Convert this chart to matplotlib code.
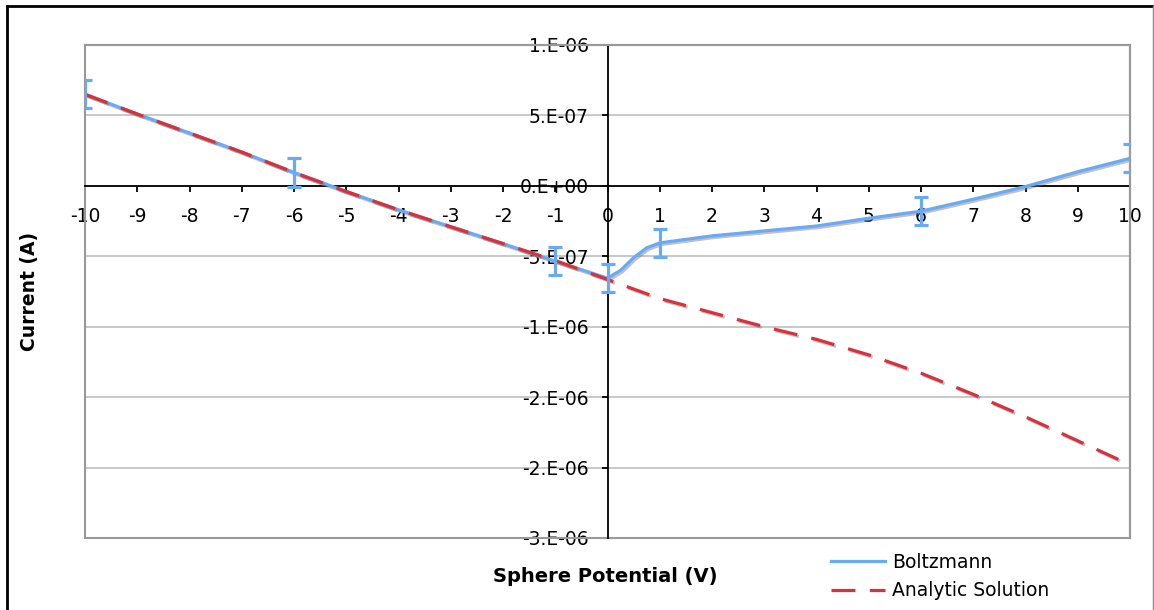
import numpy as np
import matplotlib
matplotlib.use("Agg")
import matplotlib.pyplot as plt
import matplotlib.patheffects as pe
from matplotlib.lines import Line2D
from matplotlib.patches import Rectangle

# sphere potential (V) and current (A)
x_analytic = [-10, -9, -8, -7, -6, -5, -4, -3, -2, -1, 0,
              1, 2, 3, 4, 5, 6, 7, 8, 9, 10]
i_analytic = [0.65, 0.51, 0.375, 0.24, 0.095, -0.04, -0.17, -0.29, -0.41, -0.53, -0.665,
              -0.80, -0.90, -1.00, -1.09, -1.20, -1.33, -1.48, -1.64, -1.81, -1.98]

x_boltz = [-10, -9, -8, -7, -6, -5, -4, -3, -2, -1, 0,
           0.25, 0.5, 0.75, 1, 2, 3, 4, 5, 6, 7, 8, 9, 10]
i_boltz = [0.65, 0.51, 0.375, 0.24, 0.095, -0.04, -0.17, -0.29, -0.41, -0.535, -0.655,
           -0.60, -0.51, -0.44, -0.405, -0.355, -0.32, -0.285, -0.23, -0.18, -0.095, -0.005, 0.10, 0.195]

# points carrying error bars
x_err = [-10, -6, -1, 0, 1, 6, 10]
i_err = [0.65, 0.095, -0.535, -0.655, -0.405, -0.18, 0.195]
err = 0.10

y_ticks = [-2.5, -2.0, -1.5, -1.0, -0.5, 0.0, 0.5, 1.0]
y_tick_labels = ["-3.E-06", "-2.E-06", "-2.E-06", "-1.E-06", "-5.E-07", "0.E+00", "5.E-07", "1.E-06"]
x_ticks = list(range(-10, 11))

scale = 1e-6
blue = "#6aaaf4"
red = "#d8303c"
dash = (7.5, 4.5)

plt.rcParams["font.family"] = ["DejaVu Sans"]

fig = plt.figure(figsize=(11.54, 6.10), dpi=100)
ax = fig.add_axes([85 / 1154, 1 - 538 / 610, (1130 - 85) / 1154, (538 - 45) / 610])

shadow = [pe.SimpleLineShadow(offset=(1.2, -1.2), shadow_color="#777777", alpha=0.45), pe.Normal()]

ax.plot(np.array(x_boltz), np.array(i_boltz) * scale, color=blue, lw=2.3,
        path_effects=shadow, zorder=3)
ax.plot(np.array(x_analytic), np.array(i_analytic) * scale, color=red, lw=2.3,
        dashes=dash, path_effects=shadow, zorder=4)
ax.errorbar(x_err, np.array(i_err) * scale, yerr=err * scale, fmt="none",
            ecolor=blue, elinewidth=2.3, capsize=4.8, capthick=2.3, zorder=5)

ax.set_xlim(-10, 10)
ax.set_ylim(-2.5e-6, 1.0e-6)

# axis lines cross at the origin
ax.spines["left"].set_position(("data", 0))
ax.spines["bottom"].set_position(("data", 0))
for side in ["left", "bottom"]:
    ax.spines[side].set_color("black")
    ax.spines[side].set_linewidth(1.3)
    ax.spines[side].set_zorder(2)
for side in ["top", "right"]:
    ax.spines[side].set_color("#999999")
    ax.spines[side].set_linewidth(1.5)

ax.add_patch(Rectangle((0, 0), 1, 1, transform=ax.transAxes, fill=False,
                       edgecolor="#999999", lw=1.5, zorder=1, clip_on=False))

ax.set_xticks(x_ticks)
ax.set_xticklabels([str(v) for v in x_ticks])
ax.set_yticks(np.array(y_ticks) * scale)
ax.set_yticklabels(y_tick_labels)
ax.tick_params(axis="both", direction="out", length=4.5, width=1.3, color="black",
               labelsize=13.5)
ax.tick_params(axis="x", pad=11)
ax.tick_params(axis="y", pad=9)

ax.yaxis.grid(True, color="#c4c4c4", lw=1.3)
ax.set_axisbelow(True)

fig.text(30 / 1154, 1 - 291 / 610, "Current (A)", rotation=90, ha="center", va="center",
         fontsize=13.5, fontweight="bold")
fig.text(605 / 1154, 1 - 576 / 610, "Sphere Potential (V)", ha="center", va="center",
         fontsize=14, fontweight="bold")

handles = [Line2D([], [], color=blue, lw=2.3),
           Line2D([], [], color=red, lw=2.3, dashes=dash)]
fig.legend(handles, ["Boltzmann", "Analytic Solution"], loc="upper left",
           bbox_to_anchor=(831 / 1154, 1 - 553 / 610), frameon=False,
           fontsize=13.5, handlelength=2.9, handletextpad=0.35, labelspacing=0.5,
           borderaxespad=0, borderpad=0)

# outer frame
fig.add_artist(Line2D([7 / 1154, 7 / 1154], [0, 1 - 6 / 610], color="black", lw=2,
                      transform=fig.transFigure))
fig.add_artist(Line2D([7 / 1154, 1153 / 1154], [1 - 6 / 610, 1 - 6 / 610], color="black", lw=2,
                      transform=fig.transFigure))
fig.add_artist(Line2D([1152.5 / 1154, 1152.5 / 1154], [0, 1 - 6 / 610], color="#888888", lw=1,
                      transform=fig.transFigure))

fig.savefig("out.png", dpi=100)
